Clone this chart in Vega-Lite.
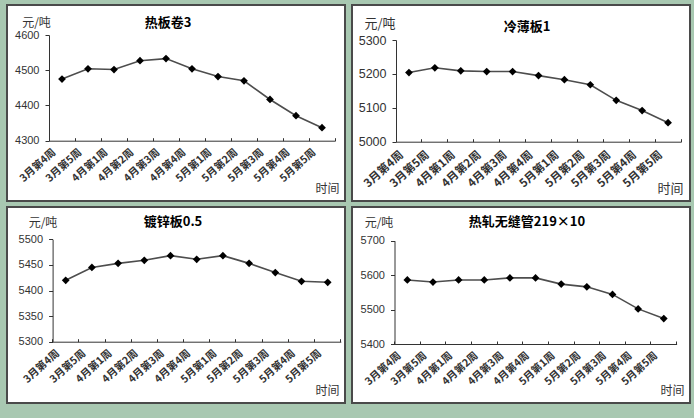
{
  "$schema": "https://vega.github.io/schema/vega-lite/v6.json",
  "background": "#a8c8b1",
  "padding": {"left": 6, "top": 4, "right": 3, "bottom": 14},
  "data": {"values": [
    {"p": 1, "w": "3月第4周", "v": 4475}, {"p": 1, "w": "3月第5周", "v": 4504}, {"p": 1, "w": "4月第1周", "v": 4502}, {"p": 1, "w": "4月第2周", "v": 4527}, {"p": 1, "w": "4月第3周", "v": 4533}, {"p": 1, "w": "4月第4周", "v": 4504}, {"p": 1, "w": "5月第1周", "v": 4482}, {"p": 1, "w": "5月第2周", "v": 4470}, {"p": 1, "w": "5月第3周", "v": 4417}, {"p": 1, "w": "5月第4周", "v": 4371}, {"p": 1, "w": "5月第5周", "v": 4337},
    {"p": 2, "w": "3月第4周", "v": 5204}, {"p": 2, "w": "3月第5周", "v": 5218}, {"p": 2, "w": "4月第1周", "v": 5209}, {"p": 2, "w": "4月第2周", "v": 5207}, {"p": 2, "w": "4月第3周", "v": 5207}, {"p": 2, "w": "4月第4周", "v": 5195}, {"p": 2, "w": "5月第1周", "v": 5183}, {"p": 2, "w": "5月第2周", "v": 5168}, {"p": 2, "w": "5月第3周", "v": 5122}, {"p": 2, "w": "5月第4周", "v": 5092}, {"p": 2, "w": "5月第5周", "v": 5056},
    {"p": 3, "w": "3月第4周", "v": 5420}, {"p": 3, "w": "3月第5周", "v": 5445}, {"p": 3, "w": "4月第1周", "v": 5453}, {"p": 3, "w": "4月第2周", "v": 5459}, {"p": 3, "w": "4月第3周", "v": 5468}, {"p": 3, "w": "4月第4周", "v": 5461}, {"p": 3, "w": "5月第1周", "v": 5468}, {"p": 3, "w": "5月第2周", "v": 5453}, {"p": 3, "w": "5月第3周", "v": 5435}, {"p": 3, "w": "5月第4周", "v": 5418}, {"p": 3, "w": "5月第5周", "v": 5416},
    {"p": 4, "w": "3月第4周", "v": 5586}, {"p": 4, "w": "3月第5周", "v": 5580}, {"p": 4, "w": "4月第1周", "v": 5586}, {"p": 4, "w": "4月第2周", "v": 5586}, {"p": 4, "w": "4月第3周", "v": 5592}, {"p": 4, "w": "4月第4周", "v": 5592}, {"p": 4, "w": "5月第1周", "v": 5574}, {"p": 4, "w": "5月第2周", "v": 5566}, {"p": 4, "w": "5月第3周", "v": 5544}, {"p": 4, "w": "5月第4周", "v": 5502}, {"p": 4, "w": "5月第5周", "v": 5474}
  ]},
  "columns": 2,
  "spacing": {"row": 6, "column": 7},
  "bounds": "flush",
  "concat": [
    {
      "width": 338, "height": 196,
      "title": {"text": "热板卷3", "dx": -8, "dy": 9, "offset": -16},
      "transform": [{"filter": "datum.p == 1"}],
      "encoding": {
        "x": {"field": "w", "type": "nominal", "sort": null,
          "scale": {"type": "band", "range": [42, 328], "paddingInner": 0, "paddingOuter": 0},
          "axis": {"title": "时间", "offset": -60.3, "titleX": 320, "titleY": 47.3}},
        "y": {"field": "v", "type": "quantitative",
          "scale": {"domain": [4300, 4600], "range": [135.7, 30], "nice": false, "zero": false},
          "axis": {"title": "元/吨", "format": "d", "offset": -42, "values": [4300, 4400, 4500, 4600], "titleX": -13, "titleY": 17}}
      },
      "layer": [
        {"mark": {"type": "line", "color": "#4d4d4d", "strokeWidth": 1.6}},
        {"mark": {"type": "point", "shape": "diamond", "filled": true, "color": "#000000", "size": 60, "opacity": 1}}
      ]
    },
    {
      "width": 338, "height": 196,
      "title": {"text": "冷薄板1", "dx": 6, "dy": 11, "offset": -18},
      "transform": [{"filter": "datum.p == 2"}],
      "encoding": {
        "x": {"field": "w", "type": "nominal", "sort": null,
          "scale": {"type": "band", "range": [44, 329], "paddingInner": 0, "paddingOuter": 0},
          "axis": {"title": "时间", "offset": -59.3, "titleX": 318, "titleY": 46.3, "labelFontSize": 11.5, "labelPadding": 10, "titleFontSize": 13}},
        "y": {"field": "v", "type": "quantitative",
          "scale": {"domain": [5000, 5300], "range": [136.7, 35], "nice": false, "zero": false},
          "axis": {"title": "元/吨", "format": "d", "offset": -44, "values": [5000, 5100, 5200, 5300], "titleX": -16.5, "titleY": 18, "labelFontSize": 12.5, "titleFontSize": 13}}
      },
      "layer": [
        {"mark": {"type": "line", "color": "#4d4d4d", "strokeWidth": 1.6}},
        {"mark": {"type": "point", "shape": "diamond", "filled": true, "color": "#000000", "size": 60, "opacity": 1}}
      ]
    },
    {
      "width": 338, "height": 196,
      "title": {"text": "镀锌板0.5", "dx": -3, "dy": 7, "offset": -15},
      "transform": [{"filter": "datum.p == 3"}],
      "encoding": {
        "x": {"field": "w", "type": "nominal", "sort": null,
          "scale": {"type": "band", "range": [45.6, 333.8], "paddingInner": 0, "paddingOuter": 0},
          "axis": {"title": "时间", "offset": -61.3, "titleX": 320, "titleY": 48.3}},
        "y": {"field": "v", "type": "quantitative",
          "scale": {"domain": [5300, 5500], "range": [134.7, 32.3], "nice": false, "zero": false},
          "axis": {"title": "元/吨", "format": "d", "offset": -45.6, "values": [5300, 5350, 5400, 5450, 5500], "titleX": -10.1, "titleY": 15}}
      },
      "layer": [
        {"mark": {"type": "line", "color": "#4d4d4d", "strokeWidth": 1.6}},
        {"mark": {"type": "point", "shape": "diamond", "filled": true, "color": "#000000", "size": 60, "opacity": 1}}
      ]
    },
    {
      "width": 338, "height": 196,
      "title": {"text": "热轧无缝管219×10", "dx": 6, "dy": 7, "offset": -15},
      "transform": [{"filter": "datum.p == 4"}],
      "encoding": {
        "x": {"field": "w", "type": "nominal", "sort": null,
          "scale": {"type": "band", "range": [42.5, 324.6], "paddingInner": 0, "paddingOuter": 0},
          "axis": {"title": "时间", "offset": -59, "titleX": 320, "titleY": 46}},
        "y": {"field": "v", "type": "quantitative",
          "scale": {"domain": [5400, 5700], "range": [137, 33.7], "nice": false, "zero": false},
          "axis": {"title": "元/吨", "format": "d", "offset": -42.5, "values": [5400, 5500, 5600, 5700], "titleX": -16, "titleY": 15}}
      },
      "layer": [
        {"mark": {"type": "line", "color": "#4d4d4d", "strokeWidth": 1.6}},
        {"mark": {"type": "point", "shape": "diamond", "filled": true, "color": "#000000", "size": 60, "opacity": 1}}
      ]
    }
  ],
  "config": {
    "view": {"fill": "#ffffff", "stroke": "#4a4a4a", "strokeWidth": 2},
    "title": {"font": "Noto Sans CJK SC", "fontSize": 13, "fontWeight": "bold", "color": "#000000", "anchor": "middle", "frame": "group", "baseline": "middle"},
    "axis": {"grid": false, "domainColor": "#333333", "domainWidth": 1, "tickColor": "#333333", "tickWidth": 1, "labelColor": "#333333", "labelFlush": false, "labelOverlap": false,
      "titleFont": "Noto Sans CJK SC", "titleFontSize": 12, "titleFontWeight": "normal", "titleColor": "#333333", "titleAngle": 0, "titleAlign": "center", "titleBaseline": "middle"},
    "axisX": {"bandPosition": 1, "tickExtra": true, "labelOffset": -11, "labelAngle": -42, "tickSize": -3, "labelPadding": 9, "labelFont": "Noto Sans CJK SC", "labelFontSize": 10.5, "labelFontWeight": "bold"},
    "axisY": {"tickSize": 4, "labelPadding": 6, "labelFont": "Liberation Sans", "labelFontSize": 11}
  }
}
